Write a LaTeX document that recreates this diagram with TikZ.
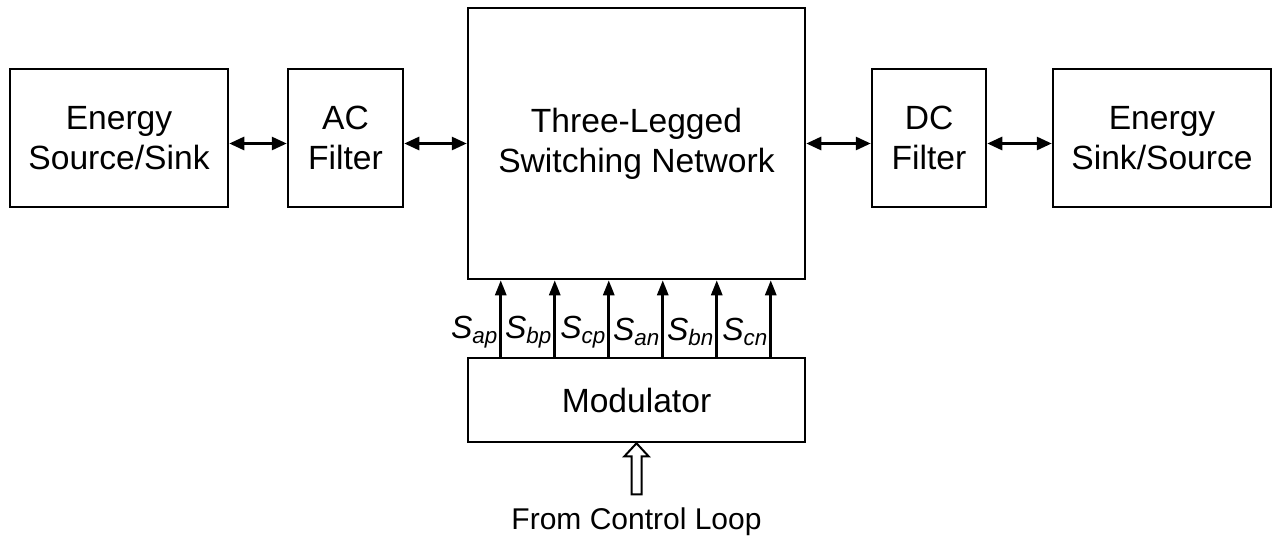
\documentclass[tikz,border=0pt]{standalone}
\usepackage{fontspec}
\setmainfont{Liberation Sans}
\usetikzlibrary{
  positioning,
  calc,
  arrows.meta
}

\begin{document}
\begin{tikzpicture}[x=0.5pt, y=-0.5pt, node distance=30pt,
    box/.style={draw, line width=1.25pt, align=center, minimum height=69pt,
      font=\fontsize{16.8}{20}\selectfont},
    dbl/.style={line width=1.4pt, {Triangle[length=7.5pt,width=6.5pt]}-{Triangle[length=7.5pt,width=6.5pt]}},
    sig/.style={line width=1.4pt, -{Triangle[length=7.5pt,width=5.5pt]}}]
    \useasboundingbox (0,0) rectangle (1277,546);

    \node[box, minimum width=168.5pt, minimum height=135.5pt] (3) at (636.5,143.5) {Three-Legged\\Switching Network};
    \node[box, left=31.25pt of 3, yshift=2.75pt, minimum width=57.5pt] (2) {AC\\Filter};
    \node[box, left=28.75pt of 2, minimum width=109pt] (1) {Energy\\Source/Sink};
    \node[box, right=32.25pt of 3, yshift=2.75pt, minimum width=57pt] (4) {DC\\Filter};
    \node[box, right=32.25pt of 4, minimum width=109pt] (5) {Energy\\Sink/Source};
    \node[box, below=38.25pt of 3, minimum width=168.5pt, minimum height=42pt] (6) {Modulator};
    \node[font=\fontsize{15}{18}\selectfont] (7) at (636.5,522) {From Control Loop};

    \draw[dbl] (1.east |- 3) -- (2.west |- 3);
    \draw[dbl] (2.east |- 3) -- (3.west);
    \draw[dbl] (3.east) -- (4.west |- 3);
    \draw[dbl] (4.east |- 3) -- (5.west |- 3);

    % gate signals
    \foreach \s [count=\i] in {ap,bp,cp,an,bn,cn} {
      \coordinate (s\i) at ($(6.north west)+(-20+54*\i,0)$);
      \draw[sig] (s\i) -- (s\i |- 3.south);
      \node[anchor=east, inner sep=1pt, font=\fontsize{16}{19}\selectfont] (l\i) at ($(s\i)+(0,-25)$) {\textit{S}\textsubscript{\textit{\s}}};
    }

    % hollow arrow from the control loop
    \coordinate (t) at (6.south);
    \draw[line width=1pt] (t) -- ++(12,13) -- ++(-7,0) -- ++(0,38) -- ++(-10,0) -- ++(0,-38) -- ++(-7,0) -- cycle;
\end{tikzpicture}
\end{document}
